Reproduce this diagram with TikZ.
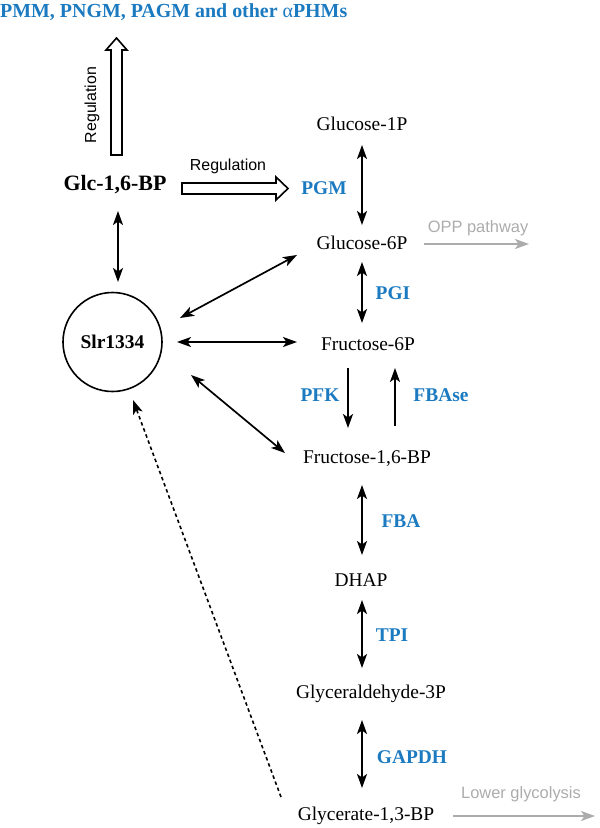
\documentclass[tikz,border=0pt]{standalone}
\usepackage{fontspec}
\setmainfont{Liberation Serif}
\setsansfont{Liberation Sans}
\usetikzlibrary{arrows.meta,calc}
\definecolor{enzblue}{RGB}{27,122,192}
\definecolor{lightgray}{RGB}{172,172,172}
\tikzset{
  metab/.style={font=\fontsize{19.5}{22}\selectfont, inner sep=0pt},
  enz/.style={font=\bfseries\fontsize{19.5}{22}\selectfont, text=enzblue, inner sep=0pt},
  reglabel/.style={font=\sffamily\fontsize{16}{18}\selectfont, inner sep=0pt},
  graylabel/.style={font=\sffamily\fontsize{16.5}{18}\selectfont, text=lightgray, inner sep=0pt},
  dbl/.style={line width=1.7bp, {Stealth[length=14bp,width=10bp,inset=3.5bp]}-{Stealth[length=14bp,width=10bp,inset=3.5bp]}},
  sgl/.style={line width=1.7bp, -{Stealth[length=14bp,width=10bp,inset=3.5bp]}},
  grayarrow/.style={line width=1.7bp, draw=lightgray, -{Stealth[length=14bp,width=10bp,inset=3.5bp]}},
  hollow/.style={line width=1.6bp, draw=black, fill=white, line join=miter},
}
\begin{document}
\begin{tikzpicture}[x=1bp,y=-1bp]
\useasboundingbox (0,0) rectangle (600,828);

% title
\node[anchor=west, inner sep=0pt, text=enzblue, font=\bfseries\fontsize{20}{22}\selectfont] (title) at (0,12) {PMM, PNGM, PAGM and other {\mdseries α}PHMs};

% Glc-1,6-BP
\node[inner sep=0pt, font=\bfseries\fontsize{22}{24}\selectfont] (glc) at (115,185) {Glc-1,6-BP};

% hollow arrows
\coordinate (vtip) at (116.5,38);
\draw[hollow] (111,155) -- (111,50) -- (106,50) -- (vtip) -- (127,50) -- (122,50) -- (122,155) -- cycle;
\node[reglabel, rotate=90] (reg1) at (92,105) {Regulation};
\coordinate (htip) at (288,188.5);
\draw[hollow] (182,183) -- (276,183) -- (276,177) -- (htip) -- (276,200) -- (276,194) -- (182,194) -- cycle;
\node[reglabel] (reg2) at (228,166) {Regulation};

% Slr1334
\node[circle, draw, line width=1.6bp, minimum size=99bp, inner sep=0pt, font=\bfseries\fontsize{19.5}{22}\selectfont] (slr) at (112.5,342) {Slr1334};

% metabolites
\node[metab] (g1p) at (362,124) {Glucose-1P};
\node[metab] (g6p) at (362,243) {Glucose-6P};
\node[metab] (f6p) at (368,344) {Fructose-6P};
\node[metab] (f16) at (367,459) {Fructose-1,6-BP};
\node[metab] (dhap) at (361,580) {DHAP};
\node[metab] (gap) at (371,694) {Glyceraldehyde-3P};
\node[metab] (bpg) at (366,816) {Glycerate-1,3-BP};

% enzymes
\node[enz] (pgm) at (324,188) {PGM};
\node[enz] (pgi) at (393,293) {PGI};
\node[enz] (pfk) at (320,395) {PFK};
\node[enz] (fbase) at (441,395) {FBAse};
\node[enz] (fba) at (401,521) {FBA};
\node[enz] (tpi) at (392,635) {TPI};
\node[enz] (gapdh) at (412,757) {GAPDH};

% gray outputs
\node[graylabel] (opp) at (478,228) {OPP pathway};
\node[graylabel] (lower) at (521,794) {Lower glycolysis};
\coordinate (oppend) at (529,244);
\coordinate (lowend) at (595,816);

% main pathway arrows
\draw[dbl] ($(g1p)+(0,21)$) -- ($(g6p)+(0,-18)$);
\draw[dbl] ($(g6p)+(0,19)$) -- ($(f6p)+(-6,-21)$);
\draw[sgl] ($(f6p)+(-20,24)$) -- ($(f16)+(-19,-31)$);
\draw[sgl] ($(f16)+(28,-33)$) -- ($(f6p)+(27,24)$);
\draw[dbl] ($(f16)+(-5,26)$) -- ($(dhap)+(1,-25)$);
\draw[dbl] ($(dhap)+(1,20)$) -- ($(gap)+(-9,-26)$);
\draw[dbl] ($(gap)+(-9,26)$) -- ($(bpg)+(-4,-28)$);

% side branches
\draw[grayarrow] ($(g6p.east)+(16,1)$) -- (oppend);
\draw[grayarrow] ($(bpg.east)+(19,0)$) -- (lowend);

% Glc to Slr
\draw[dbl] ($(glc)+(3,26)$) -- ($(slr)+(5.5,-60)$);

% Slr interactions
\draw[dbl] ($(slr)+(67.5,-24)$) -- ($(g6p)+(-65,12)$);
\draw[dbl] ($(slr)+(64.5,0)$) -- ($(f6p)+(-71,-2)$);
\draw[dbl] ($(slr)+(78.5,33)$) -- ($(f16)+(-82,-6)$);

% dashed feedback
\draw[line width=1.6bp, dash pattern=on 3.5bp off 3bp, -{Stealth[length=14bp,width=10bp,inset=3.5bp]}] ($(bpg)+(-85,-19)$) -- ($(slr)+(20.5,58)$);
\end{tikzpicture}
\end{document}
